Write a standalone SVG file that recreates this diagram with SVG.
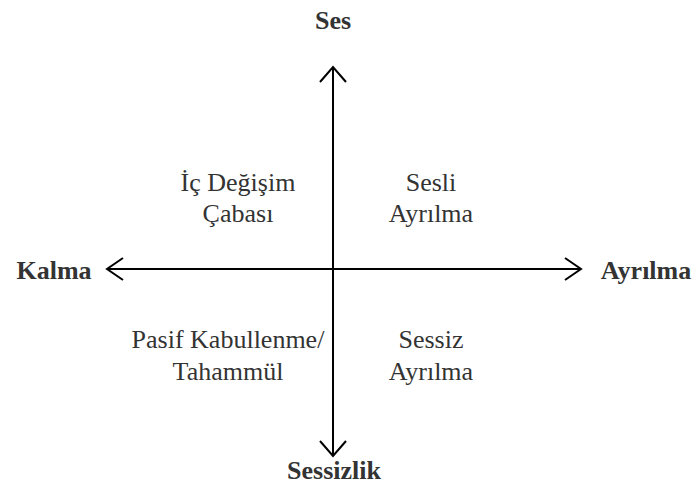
<svg xmlns="http://www.w3.org/2000/svg" width="698" height="486" viewBox="0 0 698 486">
<style>
.ax{stroke:#000;stroke-width:2;fill:none}
.lbl{font-family:'Liberation Serif','Times New Roman',serif;font-size:26px;fill:#333;text-anchor:middle}
.b{font-weight:bold}
</style>
<rect width="698" height="486" fill="#fff"/>
<g id="connectors">
<line class="ax" x1="333" y1="68" x2="333" y2="455"/>
<line class="ax" x1="108" y1="269" x2="580" y2="269"/>
<polyline class="ax" points="320,82 333,67 346,82"/>
<polyline class="ax" points="320,441 333,456 346,441"/>
<polyline class="ax" points="123,258 107,269 123,280"/>
<polyline class="ax" points="565,258 581,269 565,280"/>
</g>
<g id="ses"><text class="lbl b" x="333" y="29">Ses</text></g>
<g id="sessizlik"><text class="lbl b" x="334" y="479">Sessizlik</text></g>
<g id="kalma"><text class="lbl b" x="54" y="279">Kalma</text></g>
<g id="ayrilma"><text class="lbl b" x="646" y="279">Ayrılma</text></g>
<g id="ic-degisim"><text class="lbl" x="238" y="191">İç Değişim</text><text class="lbl" x="238" y="222">Çabası</text></g>
<g id="sesli-ayrilma"><text class="lbl" x="431" y="191">Sesli</text><text class="lbl" x="431" y="222">Ayrılma</text></g>
<g id="pasif"><text class="lbl" x="228" y="348">Pasif Kabullenme/</text><text class="lbl" x="228" y="380">Tahammül</text></g>
<g id="sessiz-ayrilma"><text class="lbl" x="431" y="348">Sessiz</text><text class="lbl" x="431" y="380">Ayrılma</text></g>
</svg>
